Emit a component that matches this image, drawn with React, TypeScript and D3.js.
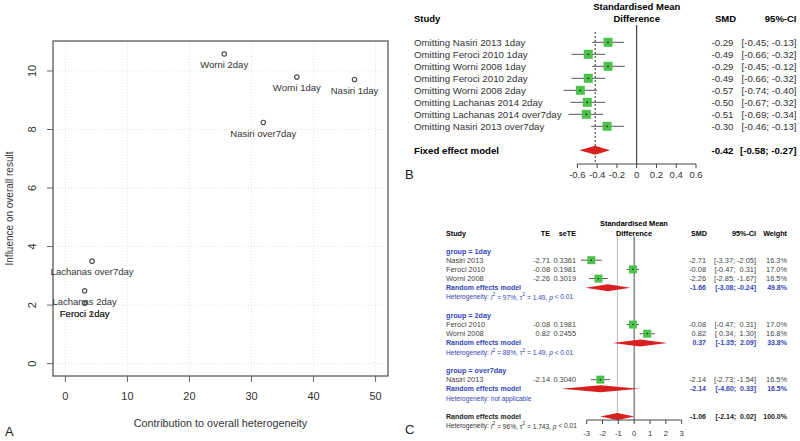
import React from 'react';
import * as d3 from 'd3';

// ---- panel A: Baujat plot ----
const baujatNames = ['Worni 2day', 'Worni 1day', 'Nasiri 1day', 'Nasiri over7day', 'Lachanas over7day', 'Lachanas 2day', 'Feroci 2day', 'Feroci 1day'];
const baujatContribution = [25.6, 37.3, 46.6, 31.9, 4.3, 3.1, 3.1, 3.1];
const baujatInfluence = [10.58, 9.79, 9.71, 8.24, 3.5, 2.49, 2.07, 2.07];
const baujatXTicks = [0, 10, 20, 30, 40, 50];
const baujatYTicks = [0, 2, 4, 6, 8, 10];

// ---- panel B: leave-one-out ----
const omitLabels = [
  'Omitting Nasiri 2013 1day', 'Omitting Feroci 2010 1day', 'Omitting Worni 2008 1day', 'Omitting Feroci 2010 2day',
  'Omitting Worni 2008 2day', 'Omitting Lachanas 2014 2day', 'Omitting Lachanas 2014 over7day', 'Omitting Nasiri 2013 over7day'
];
const omitSmd = [-0.29, -0.49, -0.29, -0.49, -0.57, -0.50, -0.51, -0.30];
const omitLower = [-0.45, -0.66, -0.45, -0.66, -0.74, -0.67, -0.69, -0.46];
const omitUpper = [-0.13, -0.32, -0.12, -0.32, -0.40, -0.32, -0.34, -0.13];
const fixedEffect = [-0.42, -0.58, -0.27];
const omitTicks = [-0.6, -0.4, -0.2, 0, 0.2, 0.4, 0.6];
const omitTickLabels = ['-0.6', '-0.4', '-0.2', '0', '0.2', '0.4', '0.6'];

// ---- panel C: subgroup forest ----
const subgroupNames = ['1day', '2day', 'over7day'];
const studyGroup = [0, 0, 0, 1, 1, 2];
const studyNames = ['Nasiri 2013', 'Feroci 2010', 'Worni 2008', 'Feroci 2010', 'Worni 2008', 'Nasiri 2013'];
const studyTE = [-2.71, -0.08, -2.26, -0.08, 0.82, -2.14];
const studySeTE = [0.3361, 0.1981, 0.3019, 0.1981, 0.2455, 0.3040];
const studyLower = [-3.37, -0.47, -2.85, -0.47, 0.34, -2.73];
const studyUpper = [-2.05, 0.31, -1.67, 0.31, 1.30, -1.54];
const studyWeight = [16.3, 17.0, 16.5, 17.0, 16.8, 16.5];
const groupSmd = [-1.66, 0.37, -2.14];
const groupLower = [-3.08, -1.35, -4.60];
const groupUpper = [-0.24, 2.09, 0.33];
const groupWeight = [49.8, 33.8, 16.5];
const groupI2 = ['97%', '88%', null];
const groupTau2 = ['1.49', '1.49', null];
const overall = [-1.06, -2.14, 0.02];
const overallHet = ['96%', '1.743'];
const forestTicks = [-3, -2, -1, 0, 1, 2, 3];

const FONT = "'Liberation Sans', Arial, sans-serif";
const GREEN = '#4cc24c';
const RED = '#d8201e';
const BLUE = '#3346b8';

const f2 = d3.format('.2f');
const fmt = (v: number) => f2(v).replace('−', '-');
const ci = (lo: number, hi: number) => `[${lo < 0 ? '' : ' '}${fmt(lo)}; ${hi < 0 ? '' : ' '}${fmt(hi)}]`;

function HetText({ x, y, i2, tau2, color }: { x: number, y: number, i2: string | null, tau2: string | null, color: string }) {
  if (i2 === null) {
    return <text x={x} y={y} fontSize={6.6} fill={color} dominantBaseline="central">Heterogeneity: not applicable</text>;
  }
  return (
    <text x={x} y={y} fontSize={6.6} fill={color} dominantBaseline="central">
      Heterogeneity: <tspan fontStyle="italic">I</tspan><tspan dy={-2.5} fontSize={5}>2</tspan>
      <tspan dy={2.5}> = {i2}, τ</tspan><tspan dy={-2.5} fontSize={5}>2</tspan>
      <tspan dy={2.5}> = {tau2}, </tspan><tspan fontStyle="italic">p</tspan> &lt; 0.01
    </text>
  );
}

function PanelA() {
  const x = d3.scaleLinear().domain([-2, 52]).range([53, 388]);
  const y = d3.scaleLinear().domain([-0.424, 11.024]).range([376, 41]);
  return (
    <g>
      {baujatXTicks.map(t => (
        <line key={'gx' + t} x1={x(t)} x2={x(t)} y1={41} y2={376} stroke="#e2e2e2" strokeDasharray="1,2" />
      ))}
      {baujatYTicks.map(t => (
        <line key={'gy' + t} x1={53} x2={388} y1={y(t)} y2={y(t)} stroke="#e2e2e2" strokeDasharray="1,2" />
      ))}
      <rect x={53} y={41} width={335} height={335} fill="none" stroke="#666" strokeWidth={1.4} />
      {baujatXTicks.map(t => (
        <g key={'tx' + t}>
          <line x1={x(t)} x2={x(t)} y1={376} y2={382} stroke="#666" />
          <text x={x(t)} y={396} fontSize={11} fill="#333" textAnchor="middle" dominantBaseline="central">{t}</text>
        </g>
      ))}
      {baujatYTicks.map(t => (
        <g key={'ty' + t}>
          <line x1={47} x2={53} y1={y(t)} y2={y(t)} stroke="#666" />
          <text transform={`translate(32,${y(t)}) rotate(-90)`} fontSize={11} fill="#333" textAnchor="middle" dominantBaseline="central">{t}</text>
        </g>
      ))}
      <text x={220.5} y={423} fontSize={10.8} fill="#333" textAnchor="middle" dominantBaseline="central">Contribution to overall heterogeneity</text>
      <text transform={`translate(9,208.5) rotate(-90)`} fontSize={10} fill="#333" textAnchor="middle" dominantBaseline="central">Influence on overall result</text>
      {baujatNames.map((n, i) => (
        <g key={n}>
          <circle cx={x(baujatContribution[i])} cy={y(baujatInfluence[i])} r={2.2} fill="none" stroke="#555" strokeWidth={1.2} />
          <text x={x(baujatContribution[i])} y={y(baujatInfluence[i]) + 10.8} fontSize={9.5} fill="#333" textAnchor="middle" dominantBaseline="central">{n}</text>
        </g>
      ))}
      <text x={5} y={431} fontSize={13} fill="#222" dominantBaseline="central">A</text>
    </g>
  );
}

function PanelB() {
  const x = d3.scaleLinear().domain([-0.6, 0.6]).range([577.4, 696]);
  const rowY = (i: number) => 42.3 + 12 * i;
  const fy = 150.3;
  const [fm, fl, fu] = fixedEffect;
  return (
    <g fontFamily={FONT}>
      <text x={636.7} y={6.7} fontSize={9.5} fontWeight="bold" textAnchor="middle" dominantBaseline="central">Standardised Mean</text>
      <text x={636.7} y={18.5} fontSize={9.5} fontWeight="bold" textAnchor="middle" dominantBaseline="central">Difference</text>
      <text x={414} y={18.7} fontSize={9.5} fontWeight="bold" dominantBaseline="central">Study</text>
      <text x={715} y={18.7} fontSize={9.5} fontWeight="bold" dominantBaseline="central">SMD</text>
      <text x={796.5} y={18.7} fontSize={9.5} fontWeight="bold" textAnchor="end" dominantBaseline="central">95%-CI</text>
      <line x1={x(0)} x2={x(0)} y1={25} y2={164} stroke="#222" />
      <line x1={x(fm)} x2={x(fm)} y1={32} y2={164} stroke="#333" strokeDasharray="2,2" />
      {omitLabels.map((lab, i) => (
        <g key={lab}>
          <text x={414} y={rowY(i)} fontSize={9.7} fill="#333" dominantBaseline="central">{lab}</text>
          <line x1={x(omitLower[i])} x2={x(omitUpper[i])} y1={rowY(i)} y2={rowY(i)} stroke="#555" />
          <rect x={x(omitSmd[i]) - 4.5} y={rowY(i) - 4.5} width={9} height={9} fill={GREEN} />
          <circle cx={x(omitSmd[i])} cy={rowY(i)} r={0.9} fill="#222" />
          <text x={733.5} y={rowY(i)} fontSize={9.7} fill="#333" textAnchor="end" dominantBaseline="central">{fmt(omitSmd[i])}</text>
          <text x={796.5} y={rowY(i)} fontSize={9.7} fill="#333" textAnchor="end" dominantBaseline="central" style={{ whiteSpace: 'pre' }}>{ci(omitLower[i], omitUpper[i])}</text>
        </g>
      ))}
      <text x={414} y={fy} fontSize={9.7} fontWeight="bold" dominantBaseline="central">Fixed effect model</text>
      <polygon points={`${x(fl)},${fy} ${x(fm)},${fy - 4.5} ${x(fu)},${fy} ${x(fm)},${fy + 4.5}`} fill={RED} />
      <text x={733.5} y={fy} fontSize={9.7} fontWeight="bold" textAnchor="end" dominantBaseline="central">{fmt(fm)}</text>
      <text x={796.5} y={fy} fontSize={9.7} fontWeight="bold" textAnchor="end" dominantBaseline="central" style={{ whiteSpace: 'pre' }}>{ci(fl, fu)}</text>
      <line x1={x(-0.6)} x2={x(0.6)} y1={164} y2={164} stroke="#444" />
      {omitTicks.map((t, i) => (
        <g key={t}>
          <line x1={x(t)} x2={x(t)} y1={164} y2={168} stroke="#444" />
          <text x={x(t)} y={174.5} fontSize={9.5} fill="#333" textAnchor="middle" dominantBaseline="central">{omitTickLabels[i]}</text>
        </g>
      ))}
      <text x={405} y={174} fontSize={13} fill="#222" dominantBaseline="central">B</text>
    </g>
  );
}

function PanelC() {
  const x = d3.scaleLinear().domain([-3, 3]).range([586.7, 681.7]);
  const lineY = (i: number) => 251 + 9.19 * i;
  const fs = 7.4;
  const rows: JSX.Element[] = [];
  let line = 0;
  subgroupNames.forEach((g, gi) => {
    rows.push(<text key={'gh' + gi} x={446} y={lineY(line)} fontSize={7.2} fontWeight="bold" fill={BLUE} dominantBaseline="central">group = {g}</text>);
    line++;
    studyNames.forEach((n, si) => {
      if (studyGroup[si] !== gi) return;
      const yy = lineY(line);
      rows.push(
        <g key={'s' + si}>
          <text x={446} y={yy} fontSize={fs} fill="#444" dominantBaseline="central">{n}</text>
          <text x={550} y={yy} fontSize={fs} fill="#444" textAnchor="end" dominantBaseline="central">{fmt(studyTE[si])}</text>
          <text x={576} y={yy} fontSize={fs} fill="#444" textAnchor="end" dominantBaseline="central">{d3.format('.4f')(studySeTE[si])}</text>
          <line x1={x(studyLower[si])} x2={x(studyUpper[si])} y1={yy} y2={yy} stroke="#555" />
          <rect x={x(studyTE[si]) - 4} y={yy - 4} width={8} height={8} fill={GREEN} />
          <circle cx={x(studyTE[si])} cy={yy} r={0.8} fill="#222" />
          <text x={706} y={yy} fontSize={fs} fill="#444" textAnchor="end" dominantBaseline="central">{fmt(studyTE[si])}</text>
          <text x={756} y={yy} fontSize={fs} fill="#444" textAnchor="end" dominantBaseline="central" style={{ whiteSpace: 'pre' }}>{ci(studyLower[si], studyUpper[si])}</text>
          <text x={787} y={yy} fontSize={fs} fill="#444" textAnchor="end" dominantBaseline="central">{d3.format('.1f')(studyWeight[si])}%</text>
        </g>
      );
      line++;
    });
    const ry = lineY(line);
    rows.push(
      <g key={'re' + gi}>
        <text x={446} y={ry} fontSize={7} fontWeight="bold" fill={BLUE} dominantBaseline="central">Random effects model</text>
        <polygon points={`${x(groupLower[gi])},${ry} ${x(groupSmd[gi])},${ry - 3.5} ${x(groupUpper[gi])},${ry} ${x(groupSmd[gi])},${ry + 3.5}`} fill={RED} />
        <text x={706} y={ry} fontSize={7} fontWeight="bold" fill={BLUE} textAnchor="end" dominantBaseline="central">{fmt(groupSmd[gi])}</text>
        <text x={756} y={ry} fontSize={7} fontWeight="bold" fill={BLUE} textAnchor="end" dominantBaseline="central" style={{ whiteSpace: 'pre' }}>{ci(groupLower[gi], groupUpper[gi])}</text>
        <text x={787} y={ry} fontSize={7} fontWeight="bold" fill={BLUE} textAnchor="end" dominantBaseline="central">{d3.format('.1f')(groupWeight[gi])}%</text>
      </g>
    );
    line++;
    rows.push(<HetText key={'het' + gi} x={446} y={lineY(line)} i2={groupI2[gi]} tau2={groupTau2[gi]} color={BLUE} />);
    line += 2;
  });
  const oy = lineY(line);
  const axisY = 420;
  return (
    <g fontFamily={FONT}>
      <text x={634} y={223.5} fontSize={7.4} fontWeight="bold" textAnchor="middle" dominantBaseline="central">Standardised Mean</text>
      <text x={634} y={233} fontSize={7.4} fontWeight="bold" textAnchor="middle" dominantBaseline="central">Difference</text>
      <text x={446} y={233} fontSize={7.2} fontWeight="bold" dominantBaseline="central">Study</text>
      <text x={550} y={233} fontSize={7.2} fontWeight="bold" textAnchor="end" dominantBaseline="central">TE</text>
      <text x={576} y={233} fontSize={7.2} fontWeight="bold" textAnchor="end" dominantBaseline="central">seTE</text>
      <text x={691} y={233} fontSize={7.2} fontWeight="bold" dominantBaseline="central">SMD</text>
      <text x={756} y={233} fontSize={7.2} fontWeight="bold" textAnchor="end" dominantBaseline="central">95%-CI</text>
      <text x={787} y={233} fontSize={7.2} fontWeight="bold" textAnchor="end" dominantBaseline="central">Weight</text>
      <line x1={x(overall[0])} x2={x(overall[0])} y1={236.5} y2={axisY} stroke="#aaa" strokeWidth={0.8} />
      <line x1={x(0)} x2={x(0)} y1={236.5} y2={axisY} stroke="#888" strokeWidth={1.5} />
      {rows}
      <text x={446} y={oy} fontSize={7} fontWeight="bold" fill="#222" dominantBaseline="central">Random effects model</text>
      <polygon points={`${x(overall[1])},${oy} ${x(overall[0])},${oy - 3.5} ${x(overall[2])},${oy} ${x(overall[0])},${oy + 3.5}`} fill={RED} />
      <text x={706} y={oy} fontSize={7} fontWeight="bold" fill="#222" textAnchor="end" dominantBaseline="central">{fmt(overall[0])}</text>
      <text x={756} y={oy} fontSize={7} fontWeight="bold" fill="#222" textAnchor="end" dominantBaseline="central" style={{ whiteSpace: 'pre' }}>{ci(overall[1], overall[2])}</text>
      <text x={787} y={oy} fontSize={7} fontWeight="bold" fill="#222" textAnchor="end" dominantBaseline="central">100.0%</text>
      <HetText x={446} y={lineY(line + 1)} i2={overallHet[0]} tau2={overallHet[1]} color="#333" />
      <line x1={x(-3)} x2={x(3)} y1={axisY} y2={axisY} stroke="#444" />
      {forestTicks.map(t => (
        <g key={t}>
          <line x1={x(t)} x2={x(t)} y1={axisY} y2={axisY + 4} stroke="#444" />
          <text x={x(t)} y={433.5} fontSize={7.6} fill="#333" textAnchor="middle" dominantBaseline="central">{t}</text>
        </g>
      ))}
      <text x={405} y={429} fontSize={13} fill="#222" dominantBaseline="central">C</text>
    </g>
  );
}

export default function App() {
  return (
    <svg width={800} height={441} style={{ position: 'absolute', left: 0, top: 0, background: '#fff' }} fontFamily={FONT}>
      <rect width={800} height={441} fill="#fff" />
      <PanelA />
      <PanelB />
      <PanelC />
    </svg>
  );
}
